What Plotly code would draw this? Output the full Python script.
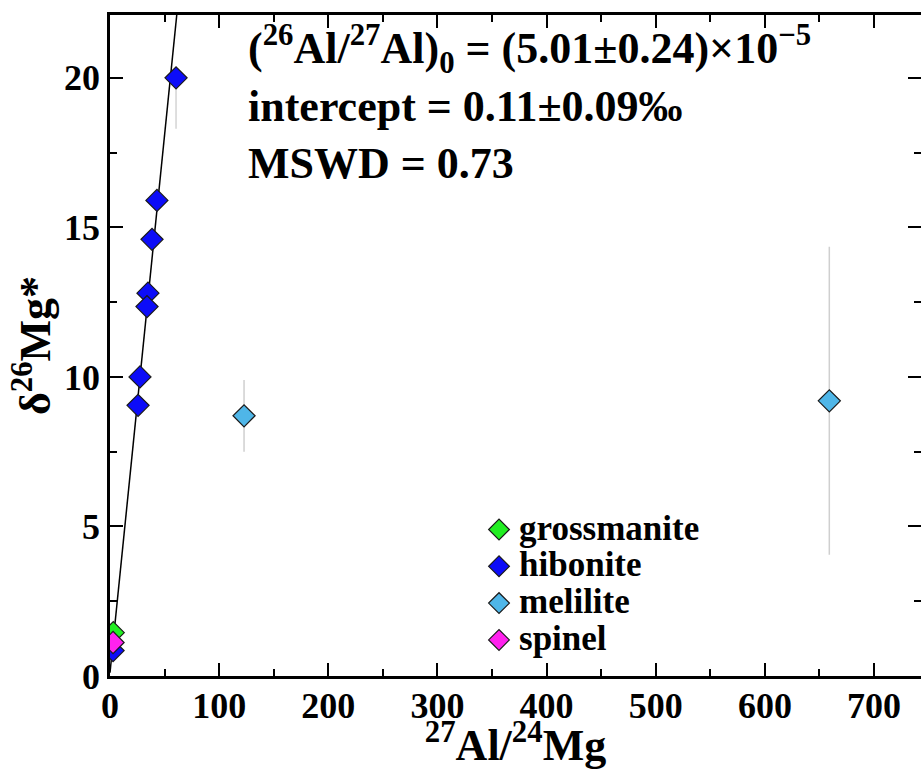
import plotly.graph_objects as go

# ---- data ----
groz_x = [3.0]
groz_y = [1.45]

hib_x = [60.5, 43.0, 38.5, 34.8, 33.9, 27.5, 25.7, 2.8]
hib_y = [20.0, 15.9, 14.6, 12.8, 12.35, 10.0, 9.05, 0.85]
hib_err_plus = [0, 0, 0, 0, 0, 0, 0, 0]
hib_err_minus = [1.7, 0, 0, 0, 0, 0, 0, 0]

mel_x = [122.8, 659.0]
mel_y = [8.7, 9.2]
mel_err = [1.2, 5.15]

spi_x = [2.8]
spi_y = [1.12]

# isochron fit
slope = 0.3596
intercept = 0.11
fit_x = [0, 70]
fit_y = [intercept + slope * v for v in fit_x]

x_ticks = [0, 100, 200, 300, 400, 500, 600, 700]
y_ticks = [0, 5, 10, 15, 20]

SERIF = "Liberation Serif, Times New Roman, serif"


def leg(name):
    return '<span style="font-size:35px">%s</span>' % name


fig = go.Figure()

fig.add_trace(go.Scatter(x=fit_x, y=fit_y, mode="lines",
                         line=dict(color="black", width=1.5),
                         showlegend=False, hoverinfo="skip"))

mk = dict(symbol="diamond", size=17, line=dict(color="#1a1a1a", width=1.2))

fig.add_trace(go.Scatter(x=groz_x, y=groz_y, mode="markers", name=leg("grossmanite"),
                         marker=dict(mk, color="#22ee22")))
fig.add_trace(go.Scatter(x=hib_x, y=hib_y, mode="markers", name=leg("hibonite"),
                         marker=dict(mk, color="#0c0cf8"),
                         error_y=dict(type="data", array=hib_err_plus,
                                      arrayminus=hib_err_minus, symmetric=False,
                                      color="#d4d4d4", thickness=1.5, width=0)))
fig.add_trace(go.Scatter(x=mel_x, y=mel_y, mode="markers", name=leg("melilite"),
                         marker=dict(mk, color="#4fb6e8"),
                         error_y=dict(type="data", array=mel_err,
                                      color="#cfcfcf", thickness=1.5, width=0)))
fig.add_trace(go.Scatter(x=spi_x, y=spi_y, mode="markers", name=leg("spinel"),
                         marker=dict(mk, color="#ff22ee")))

axis_common = dict(
    showline=True, linewidth=2.5, linecolor="black", mirror="ticks",
    ticks="inside", ticklen=13, tickwidth=2, tickcolor="black",
    showgrid=False, zeroline=False, automargin=False,
    tickfont=dict(family=SERIF, size=36, color="black", weight="bold"),
)

fig.update_xaxes(
    range=[0, 743], tickvals=x_ticks, ticklabelstandoff=-4,
    minor=dict(dtick=50, ticks="inside", ticklen=7, tickwidth=2, tickcolor="black"),
    title=dict(text="<sup>27</sup>Al/<sup>24</sup>Mg",
               font=dict(family=SERIF, size=44, color="black", weight="bold"),
               standoff=16),
    **axis_common,
)
fig.update_yaxes(
    range=[0, 22.1], tickvals=y_ticks,
    minor=dict(dtick=2.5, ticks="inside", ticklen=7, tickwidth=2, tickcolor="black"),
    title=dict(text="δ<sup>26</sup>Mg*",
               font=dict(family=SERIF, size=44, color="black", weight="bold"),
               standoff=0),
    **axis_common,
)

fig.add_annotation(
    xref="paper", yref="paper", x=0.168, y=0.998, xanchor="left", yanchor="top",
    align="left", showarrow=False,
    text="(<sup>26</sup>Al/<sup>27</sup>Al)<sub>0</sub> = (5.01±0.24)×10<sup>−5</sup><br>"
         "intercept = 0.11±0.09‰<br>MSWD = 0.73",
    font=dict(family=SERIF, size=44, color="black", weight="bold"),
)

fig.update_layout(
    width=921, height=770,
    margin=dict(l=110, r=0, t=15, b=94),
    plot_bgcolor="white", paper_bgcolor="white",
    legend=dict(x=0.455, y=0.257, xanchor="left", yanchor="top",
                font=dict(family=SERIF, size=26, color="black", weight="bold"),
                bgcolor="rgba(0,0,0,0)", itemsizing="trace",
                tracegroupgap=0),
)

fig.write_html("out.html", config={"displayModeBar": False},
               post_script="document.body.style.margin='0';document.body.style.overflow='hidden';")
